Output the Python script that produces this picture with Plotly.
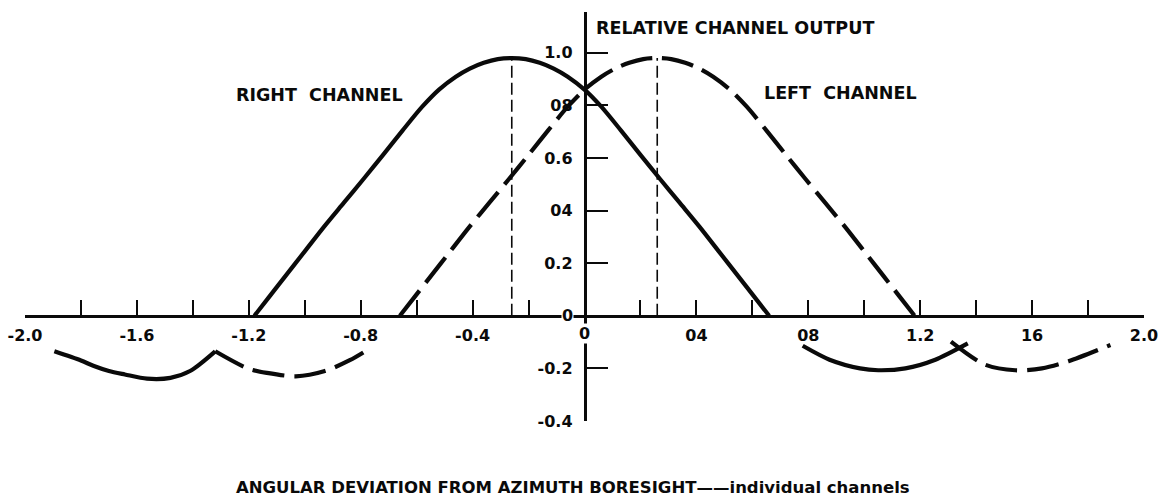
import plotly.graph_objects as go

# Main lobe of the right channel (solid) and left channel (dashed)
x_right_main = [-1.18, -1.13, -1.07, -1.00, -0.93, -0.86, -0.79, -0.72, -0.65, -0.58, -0.52,
                -0.46, -0.41, -0.36, -0.31, -0.26, -0.21, -0.16, -0.11, -0.06, 0.0,
                0.06, 0.13, 0.20, 0.27, 0.34, 0.41, 0.48, 0.55, 0.61, 0.66]
y_right_main = [0.0, 0.068, 0.15, 0.245, 0.34, 0.43, 0.52, 0.612, 0.705, 0.795, 0.86,
                0.909, 0.94, 0.962, 0.976, 0.98, 0.976, 0.962, 0.94, 0.909, 0.86,
                0.795, 0.705, 0.612, 0.52, 0.43, 0.34, 0.245, 0.15, 0.068, 0.0]

x_left_main = [-0.66, -0.61, -0.55, -0.48, -0.41, -0.34, -0.27, -0.20, -0.13, -0.06, 0.0,
               0.06, 0.11, 0.16, 0.21, 0.26, 0.31, 0.36, 0.41, 0.46, 0.52,
               0.58, 0.65, 0.72, 0.79, 0.86, 0.93, 1.00, 1.07, 1.13, 1.18]
y_left_main = [0.0, 0.068, 0.15, 0.245, 0.34, 0.43, 0.52, 0.612, 0.705, 0.795, 0.86,
               0.909, 0.94, 0.962, 0.976, 0.98, 0.976, 0.962, 0.94, 0.909, 0.86,
               0.795, 0.705, 0.612, 0.52, 0.43, 0.34, 0.245, 0.15, 0.068, 0.0]

# Side lobes (negative response)
x_right_side_a = [-1.895, -1.80, -1.756, -1.70, -1.643, -1.564, -1.48, -1.41, -1.32]
y_right_side_a = [-0.135, -0.17, -0.19, -0.21, -0.223, -0.239, -0.236, -0.21, -0.135]
x_left_side_a = [-1.32, -1.204, -1.135, -1.032, -0.928, -0.839, -0.77]
y_left_side_a = [-0.135, -0.20, -0.217, -0.23, -0.21, -0.169, -0.126]

x_right_side_b = [0.78, 0.876, 0.985, 1.05, 1.147, 1.254, 1.37]
y_right_side_b = [-0.114, -0.167, -0.20, -0.207, -0.20, -0.167, -0.105]
x_left_side_b = [1.31, 1.43, 1.54, 1.635, 1.73, 1.88]
y_left_side_b = [-0.098, -0.185, -0.207, -0.20, -0.173, -0.111]

# Peak (boresight) markers
peak_x = [-0.26, 0.26]
peak_y = 0.98

# Axis ticks and labels
x_ticks = [-2.0, -1.8, -1.6, -1.4, -1.2, -1.0, -0.8, -0.6, -0.4, -0.2, 0.0,
           0.2, 0.4, 0.6, 0.8, 1.0, 1.2, 1.4, 1.6, 1.8, 2.0]
x_ticktext = ["-2.0", "", "-1.6", "", "-1.2", "", "-0.8", "", "-0.4", "", "",
              "", "04", "", "08", "", "1.2", "", "16", "", "2.0"]
y_ticks = [-0.4, -0.2, 0.0, 0.2, 0.4, 0.6, 0.8, 1.0]
y_ticktext = ["-0.4", "-0.2", "", "0.2", "04", "0.6", "08", "1.0"]

INK = "#0a0a0a"
FONT = "DejaVu Sans"
W, H = 1161, 500

x_dom = [25 / W, 1144 / W]
y_dom = [(H - 421) / H, (H - 12) / H]
x_rng = [-2.0, 2.0]
y_rng = [-0.4, 1.155]

x_axis_pos = y_dom[0] + (0 - y_rng[0]) / (y_rng[1] - y_rng[0]) * (y_dom[1] - y_dom[0])
y_axis_pos = x_dom[0] + (0 - x_rng[0]) / (x_rng[1] - x_rng[0]) * (x_dom[1] - x_dom[0])

DASH = "32px,10px"
LW = 4.2

fig = go.Figure()

def add_line(x, y, dash):
    fig.add_trace(go.Scatter(x=x, y=y, mode="lines", showlegend=False, hoverinfo="skip",
                             line=dict(color=INK, width=LW, dash=dash, shape="spline",
                                       smoothing=0.8)))

add_line(x_right_main, y_right_main, "solid")
add_line(x_left_main, y_left_main, DASH)
add_line(x_right_side_a, y_right_side_a, "solid")
add_line(x_left_side_a, y_left_side_a, DASH)
add_line(x_right_side_b, y_right_side_b, "solid")
add_line(x_left_side_b, y_left_side_b, DASH)

for px in peak_x:
    fig.add_trace(go.Scatter(x=[px, px], y=[0, peak_y], mode="lines", showlegend=False,
                             hoverinfo="skip",
                             line=dict(color=INK, width=1.6, dash="12px,5px")))

tick_font = dict(family=FONT, size=16, color=INK, weight="bold")
label_font = dict(family=FONT, size=17.5, color=INK, weight="bold")

fig.update_layout(
    width=W, height=H,
    margin=dict(l=0, r=0, t=0, b=0, autoexpand=False),
    paper_bgcolor="white", plot_bgcolor="white",
    xaxis=dict(domain=x_dom, range=x_rng, anchor="free", position=x_axis_pos,
               automargin=False,
               showgrid=False, zeroline=False, showline=True, linecolor=INK, linewidth=2.5,
               ticks="inside", ticklen=15, tickwidth=2, tickcolor=INK,
               tickvals=x_ticks, ticktext=x_ticktext, tickfont=tick_font,
               ticklabelstandoff=4, fixedrange=True),
    yaxis=dict(domain=y_dom, range=y_rng, anchor="free", position=y_axis_pos,
               automargin=False,
               showgrid=False, zeroline=False, showline=True, linecolor=INK, linewidth=2.5,
               ticks="inside", ticklen=22, tickwidth=2, tickcolor=INK,
               tickvals=y_ticks, ticktext=y_ticktext, tickfont=tick_font,
               ticklabelstandoff=8, fixedrange=True),
)

annotations = [
    dict(x=-0.062, y=0, text="0", xanchor="center", yanchor="middle",
         bgcolor="white", font=tick_font),
    dict(x=0, y=-0.068, text="0", xanchor="center", yanchor="middle",
         bgcolor="white", font=tick_font),
    dict(x=0.0375, y=1.094, text="RELATIVE CHANNEL OUTPUT", xanchor="left", yanchor="middle",
         font=label_font),
    dict(x=-1.249, y=0.84, text="RIGHT  CHANNEL", xanchor="left", yanchor="middle",
         font=label_font),
    dict(x=0.638, y=0.847, text="LEFT  CHANNEL", xanchor="left", yanchor="middle",
         font=label_font),
    dict(x=235 / W, y=(H - 487) / H, xref="paper", yref="paper",
         text="ANGULAR DEVIATION FROM AZIMUTH BORESIGHT\u2014\u2014individual channels",
         xanchor="left", yanchor="middle",
         font=dict(family=FONT, size=16.5, color=INK, weight="bold")),
]
for a in annotations:
    a.setdefault("showarrow", False)
    a.setdefault("borderpad", 0)
fig.update_layout(annotations=annotations)

fig.write_html("out.html")
